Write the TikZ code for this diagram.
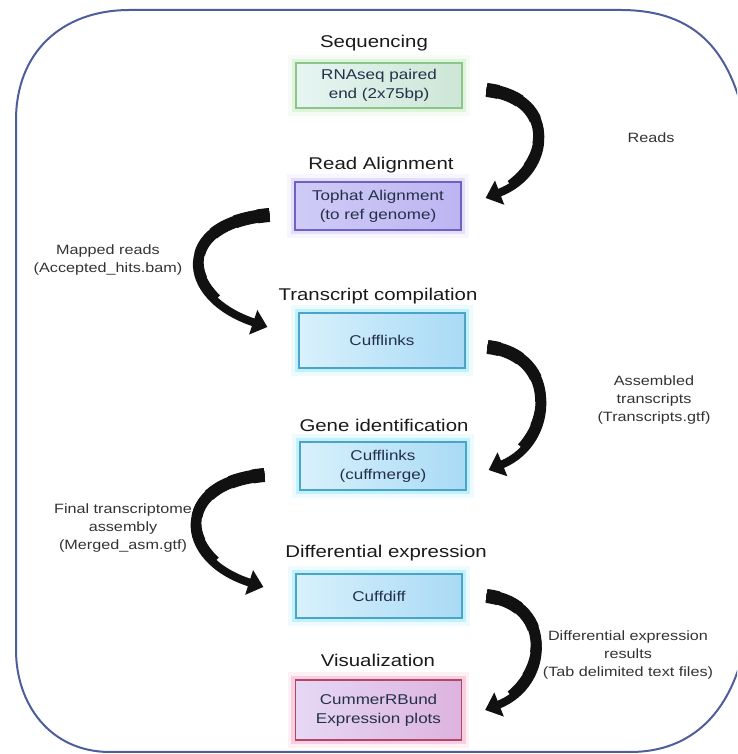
\documentclass[tikz,border=0pt]{standalone}
\usepackage{fontspec}
\setmainfont{Liberation Sans}[FakeStretch=1.2]
\usetikzlibrary{arrows.meta,backgrounds}
\definecolor{greenb}{HTML}{8CC48A}
\definecolor{greenl}{HTML}{E6F5F2}
\definecolor{greenr}{HTML}{CDE6D6}
\definecolor{greeng}{HTML}{BDEBB5}
\definecolor{purpb}{HTML}{6D62C4}
\definecolor{purpl}{HTML}{CFCBF6}
\definecolor{purpr}{HTML}{BDB5F2}
\definecolor{purpg}{HTML}{C9BCF7}
\definecolor{cyanb}{HTML}{4BA3C6}
\definecolor{cyanl}{HTML}{D8F1FC}
\definecolor{cyanr}{HTML}{A9DAF5}
\definecolor{cyang}{HTML}{7FE3F7}
\definecolor{pinkb}{HTML}{B2466A}
\definecolor{pinkl}{HTML}{E6D8F5}
\definecolor{pinkr}{HTML}{DDB3DE}
\definecolor{pinkg}{HTML}{F29BC0}
\definecolor{framec}{HTML}{4D5E9B}
\definecolor{titlec}{HTML}{1A1A1A}
\definecolor{boxtext}{HTML}{24304A}
\definecolor{labelc}{HTML}{333333}
\definecolor{arrc}{HTML}{111111}
\begin{document}
\begin{tikzpicture}[x=1pt,y=1pt,
  title/.style={font=\fontsize{17}{20}\selectfont, text=titlec, inner sep=0pt},
  stage/.style={line width=1.2pt, minimum width=166pt, align=center,
    font=\fontsize{14.2}{19}\selectfont, text=boxtext, inner sep=0pt},
  greenbox/.style={stage, draw=greenb, left color=greenl, right color=greenr},
  purpbox/.style={stage, draw=purpb, left color=purpl, right color=purpr},
  cyanbox/.style={stage, draw=cyanb, left color=cyanl, right color=cyanr},
  pinkbox/.style={stage, draw=pinkb, left color=pinkl, right color=pinkr},
  glow/.style={draw=#1, line width=7pt, opacity=0.4},
  softglow/.style={draw=#1, line width=14pt, opacity=0.14},
  sidelabel/.style={font=\fontsize{13.5}{18}\selectfont, text=labelc, align=center, inner sep=0pt},
  bigarr/.style={line width=8pt, draw=arrc, -{Triangle[width=25pt,length=15pt]},
    postaction={draw=arrc, arrows=-, line width=9pt, dash pattern=on 135pt off 3000pt},
    postaction={draw=arrc, arrows=-, line width=10pt, dash pattern=on 110pt off 3000pt},
    postaction={draw=arrc, arrows=-, line width=11pt, dash pattern=on 85pt off 3000pt},
    postaction={draw=arrc, arrows=-, line width=12pt, dash pattern=on 60pt off 3000pt},
    postaction={draw=arrc, arrows=-, line width=13pt, dash pattern=on 35pt off 3000pt},
    postaction={draw=arrc, arrows=-, line width=14pt, dash pattern=on 12pt off 3000pt}},
  framestyle/.style={draw=framec, line width=2pt}
]
\useasboundingbox (0,0) rectangle (737,754);
\begin{scope}
\clip (0,0) rectangle (737,754);
\draw[framestyle] (130,744) -- (620,744)
  .. controls (695,744) and (738,705) .. (750,600)
  -- (750,150)
  .. controls (745,60) and (705,2) .. (630,2)
  -- (110,2)
  .. controls (50,2) and (16,50) .. (16,104)
  -- (16,634)
  .. controls (16,700) and (60,744) .. (130,744) -- cycle;
\end{scope}

% titles
\node[title] (t1) at (374,711) {Sequencing};
\node[title] (t2) at (381,589) {Read Alignment};
\node[title] (t3) at (378,458) {Transcript compilation};
\node[title] (t4) at (384,329) {Gene identification};
\node[title] (t5) at (386,201) {Differential expression};
\node[title] (t6) at (378,94) {Visualization};

% boxes
\node[greenbox, minimum height=45pt] (b1) at (379,668.5) {RNAseq paired\\end (2x75bp)};
\node[purpbox, minimum height=48pt] (b2) at (378,548) {Tophat Alignment\\(to ref genome)};
\node[cyanbox, minimum height=55pt] (b3) at (382,413.5) {Cufflinks};
\node[cyanbox, minimum height=48pt] (b4) at (383,288) {Cufflinks\\(cuffmerge)};
\node[cyanbox, minimum height=44pt] (b5) at (379,158) {Cuffdiff};
\node[pinkbox, minimum height=60pt] (b6) at (378.5,44) {CummerRBund\\Expression plots};

\begin{scope}[on background layer]
\draw[softglow=greeng] (b1.south west) rectangle (b1.north east);
\draw[glow=greeng] (b1.south west) rectangle (b1.north east);
\draw[softglow=purpg] (b2.south west) rectangle (b2.north east);
\draw[glow=purpg] (b2.south west) rectangle (b2.north east);
\foreach \b in {b3,b4,b5}{
  \draw[softglow=cyang] (\b.south west) rectangle (\b.north east);
  \draw[glow=cyang] (\b.south west) rectangle (\b.north east);
}
\draw[softglow=pinkg] (b6.south west) rectangle (b6.north east);
\draw[glow=pinkg] (b6.south west) rectangle (b6.north east);
\end{scope}

% side labels
\node[sidelabel] (l1) at (651,616) {Reads};
\node[sidelabel] (l2) at (108,494) {Mapped reads\\(Accepted\_hits.bam)};
\node[sidelabel] (l3) at (654,354) {Assembled\\transcripts\\(Transcripts.gtf)};
\node[sidelabel] (l4) at (123,226) {Final transcriptome\\assembly\\(Merged\_asm.gtf)};
\node[sidelabel] (l5) at (628,99) {Differential expression\\results\\(Tab delimited text files)};

% arrows
\draw[bigarr] ([xshift=24pt,yshift=-4.5pt]b1.east) .. controls +(72,-8) and +(68,26) .. ([xshift=24pt,yshift=8pt]b2.east);
\draw[bigarr] ([xshift=-25pt,yshift=-9pt]b2.west) .. controls +(-96,-8) and +(-90,30) .. ([xshift=-31pt,yshift=13.5pt]b3.west);
\draw[bigarr] ([xshift=22pt,yshift=-6.5pt]b3.east) .. controls +(72,-8) and +(68,28) .. ([xshift=22pt,yshift=-4pt]b4.east);
\draw[bigarr] ([xshift=-35pt,yshift=-9pt]b4.west) .. controls +(-92,-8) and +(-88,28) .. ([xshift=-32pt,yshift=9pt]b5.west);
\draw[bigarr] ([xshift=24pt,yshift=0pt]b5.east) .. controls +(68,-8) and +(66,26) .. ([xshift=23pt,yshift=0pt]b6.east);
\end{tikzpicture}
\end{document}
